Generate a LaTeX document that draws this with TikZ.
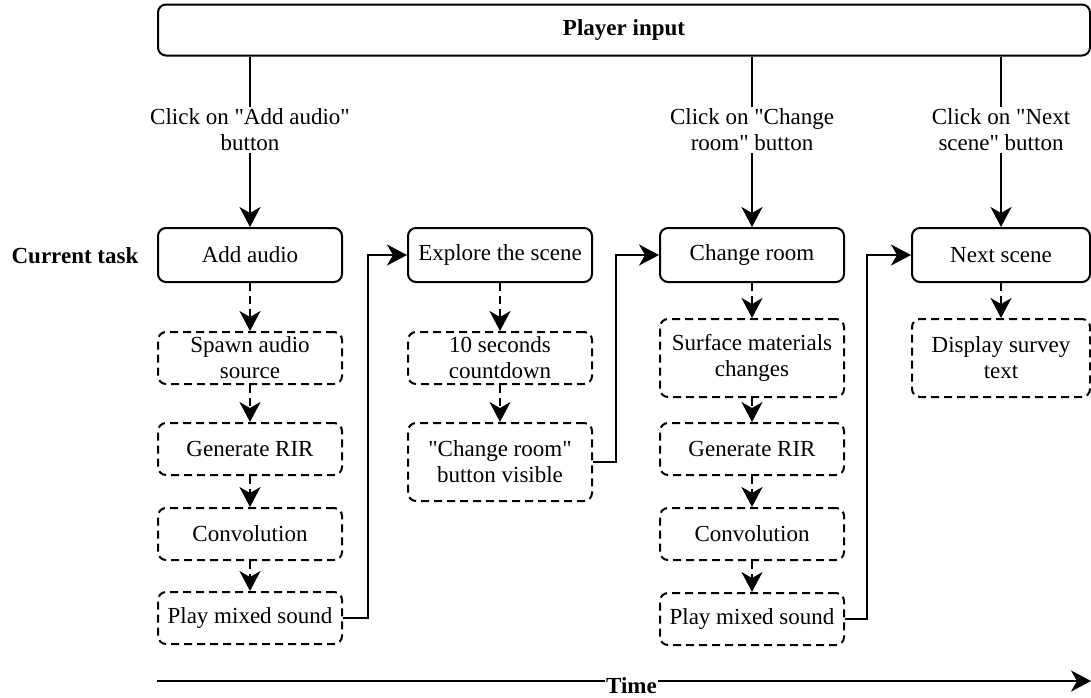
\documentclass[tikz,border=0pt]{standalone}
\usepackage{fontspec}
\setmainfont{Liberation Serif}[Ligatures=TeXOff]
\usetikzlibrary{arrows.meta}
\begin{document}
\begin{tikzpicture}[x=0.5pt,y=-0.5pt,
  every node/.style={font=\fontsize{11.5}{13}\selectfont},
  task/.style={draw, line width=1pt, rounded corners=4pt, minimum width=92pt, minimum height=27pt, align=center, inner sep=0pt},
  sub/.style={draw, line width=1pt, dash pattern=on 4pt off 2.5pt, rounded corners=4pt, minimum width=92pt, minimum height=26pt, align=center, inner sep=0pt},
  tall/.style={minimum height=39pt},
  arr/.style={line width=1pt, -{Stealth[length=10pt,width=10.5pt,inset=3pt]}},
  darr/.style={arr, dash pattern=on 4pt off 2.5pt},
  lbl/.style={fill=white, align=center, inner sep=1pt},
  bold/.style={font=\fontsize{11.5}{13}\selectfont\bfseries}
]
\useasboundingbox (0,0) rectangle (1091,697);

% Player input
\node[task, bold, minimum width=466pt, minimum height=25.5pt] (pi) at (624,30) {Player input};

% Current task label
\node[bold] (ct) at (75,256) {Current task};

% Task boxes
\node[task] (add) at (250,255) {Add audio};
\node[task] (exp) at (500,255) {Explore the scene};
\node[task] (chg) at (752,255) {Change room};
\node[task, minimum width=89pt] (nxt) at (1001,255) {Next scene};

% Column 1
\node[sub] (sp) at (250,358) {Spawn audio\\source};
\node[sub] (rir1) at (250,449) {Generate RIR};
\node[sub] (cv1) at (250,534) {Convolution};
\node[sub] (pm1) at (250,618) {Play mixed sound};

% Column 2
\node[sub] (cd) at (500,358) {10 seconds\\countdown};
\node[sub, tall] (vis) at (500,462) {"Change room"\\button visible};

% Column 3
\node[sub, tall] (sm) at (752,358) {Surface materials\\changes};
\node[sub] (rir3) at (752,449) {Generate RIR};
\node[sub] (cv3) at (752,534) {Convolution};
\node[sub] (pm3) at (752,619) {Play mixed sound};

% Column 4
\node[sub, tall, minimum width=89pt] (dst) at (1001,358) {Display survey\\text};

% Player input arrows
\draw[arr] (pi.south -| add.north) -- node[lbl, pos=0.43] {Click on "Add audio"\\button} (add.north);
\draw[arr] (pi.south -| chg.north) -- node[lbl, pos=0.43] {Click on "Change\\room" button} (chg.north);
\draw[arr] (pi.south -| nxt.north) -- node[lbl, pos=0.43] {Click on "Next\\scene" button} (nxt.north);

% Dashed chains
\draw[darr] (add) -- (sp);
\draw[darr] (sp) -- (rir1);
\draw[darr] (rir1) -- (cv1);
\draw[darr] (cv1) -- (pm1);

\draw[darr] (exp) -- (cd);
\draw[darr] (cd) -- (vis);

\draw[darr] (chg) -- (sm);
\draw[darr] (sm) -- (rir3);
\draw[darr] (rir3) -- (cv3);
\draw[darr] (cv3) -- (pm3);

\draw[darr] (nxt) -- (dst);

% Transitions
\draw[arr] (pm1.east) -- ++(25,0) |- (exp.west);
\draw[arr] (vis.east) -- ++(23,0) |- (chg.west);
\draw[arr] (pm3.east) -- ++(22,0) |- (nxt.west);

% Time axis
\coordinate (ts) at (157,681);
\coordinate (te) at (1091,681);
\draw[arr] (ts) -- node[bold, fill=white, inner sep=0.5pt, pos=0.508, yshift=-2.5pt] (time) {Time} (te);
\end{tikzpicture}
\end{document}
